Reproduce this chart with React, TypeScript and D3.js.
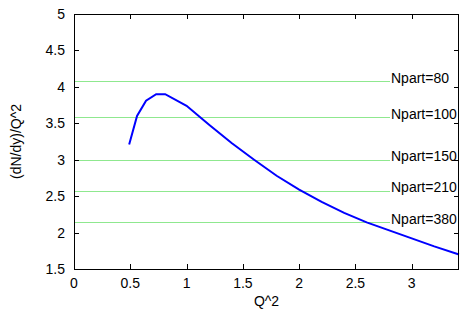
import React, { useRef, useEffect } from 'react';
import * as d3 from 'd3';

// curve (Q^2, (dN/dy)/Q^2)
const q2 = [0.49, 0.56, 0.64, 0.73, 0.81, 1.0, 1.2, 1.4, 1.6, 1.8, 2.0, 2.2, 2.4, 2.6, 2.8, 3.0, 3.2, 3.42];
const ratio = [3.21, 3.6, 3.81, 3.9, 3.9, 3.74, 3.48, 3.23, 3.0, 2.78, 2.59, 2.42, 2.27, 2.14, 2.03, 1.92, 1.81, 1.7];

// horizontal reference lines
const npartLabels = ['Npart=80', 'Npart=100', 'Npart=150', 'Npart=210', 'Npart=380'];
const npartValues = [4.08, 3.585, 3.0, 2.575, 2.14];

const xTicks = [0, 0.5, 1, 1.5, 2, 2.5, 3];
const yTicks = [1.5, 2, 2.5, 3, 3.5, 4, 4.5, 5];

const App = () => {
  const ref = useRef(null);

  useEffect(() => {
    const svg = d3.select(ref.current);
    svg.selectAll('*').remove();

    const width = 467;
    const height = 327;
    const m = { left: 74, right: 8, top: 14, bottom: 58 };
    const font = 'Liberation Sans, Arial, sans-serif';
    const fs = 14;

    const x = d3.scaleLinear().domain([0, 3.42]).range([m.left, width - m.right]);
    const y = d3.scaleLinear().domain([1.5, 5]).range([height - m.bottom, m.top]);

    // green reference lines + labels
    npartValues.forEach((v, i) => {
      svg.append('line')
        .attr('x1', x(0)).attr('x2', 390)
        .attr('y1', Math.round(y(v)) + 0.5).attr('y2', Math.round(y(v)) + 0.5)
        .attr('stroke', '#8fe88f').attr('stroke-width', 1);
      svg.append('text')
        .attr('x', 391).attr('y', y(v) + 1.5)
        .attr('font-family', font).attr('font-size', fs)
        .text(npartLabels[i]);
    });

    // blue curve
    const line = d3.line()
      .x((d, i) => x(q2[i]))
      .y(d => y(d));
    svg.append('path')
      .datum(ratio)
      .attr('d', line)
      .attr('fill', 'none')
      .attr('stroke', '#0000ff')
      .attr('stroke-width', 2);

    // frame
    const x0 = x(0), x1 = x(3.42), y0 = y(1.5), y1 = y(5);
    svg.append('rect')
      .attr('x', x0 + 0.5).attr('y', y1 + 0.5)
      .attr('width', x1 - x0 - 1).attr('height', y0 - y1)
      .attr('fill', 'none').attr('stroke', '#000').attr('stroke-width', 1);

    const tl = 5;
    // x ticks (bottom + top mirror)
    xTicks.forEach(t => {
      const px = Math.round(x(t)) + 0.5;
      svg.append('line').attr('x1', px).attr('x2', px).attr('y1', y0).attr('y2', y0 - tl).attr('stroke', '#000');
      svg.append('line').attr('x1', px).attr('x2', px).attr('y1', y1).attr('y2', y1 + tl).attr('stroke', '#000');
      svg.append('text')
        .attr('x', x(t)).attr('y', y0 + 19)
        .attr('text-anchor', 'middle')
        .attr('font-family', font).attr('font-size', fs)
        .text(String(t));
    });

    // y ticks (left + right mirror)
    yTicks.forEach(t => {
      const py = Math.round(y(t)) + 0.5;
      svg.append('line').attr('x1', x0).attr('x2', x0 + tl).attr('y1', py).attr('y2', py).attr('stroke', '#000');
      svg.append('line').attr('x1', x1).attr('x2', x1 - tl).attr('y1', py).attr('y2', py).attr('stroke', '#000');
      svg.append('text')
        .attr('x', x0 - 9).attr('y', y(t) + 5)
        .attr('text-anchor', 'end')
        .attr('font-family', font).attr('font-size', fs)
        .text(String(t));
    });

    // axis titles
    svg.append('text')
      .attr('x', (x0 + x1) / 2).attr('y', y0 + 37)
      .attr('text-anchor', 'middle')
      .attr('font-family', font).attr('font-size', fs)
      .text('Q^2');
    svg.append('text')
      .attr('transform', `translate(21,${(y0 + y1) / 2}) rotate(-90)`)
      .attr('text-anchor', 'middle')
      .attr('font-family', font).attr('font-size', fs)
      .text('(dN/dy)/Q^2');
  }, []);

  return (
    <svg ref={ref} width={467} height={327}
      style={{ position: 'absolute', left: 0, top: 0, background: '#fff' }} />
  );
};

export default App;
